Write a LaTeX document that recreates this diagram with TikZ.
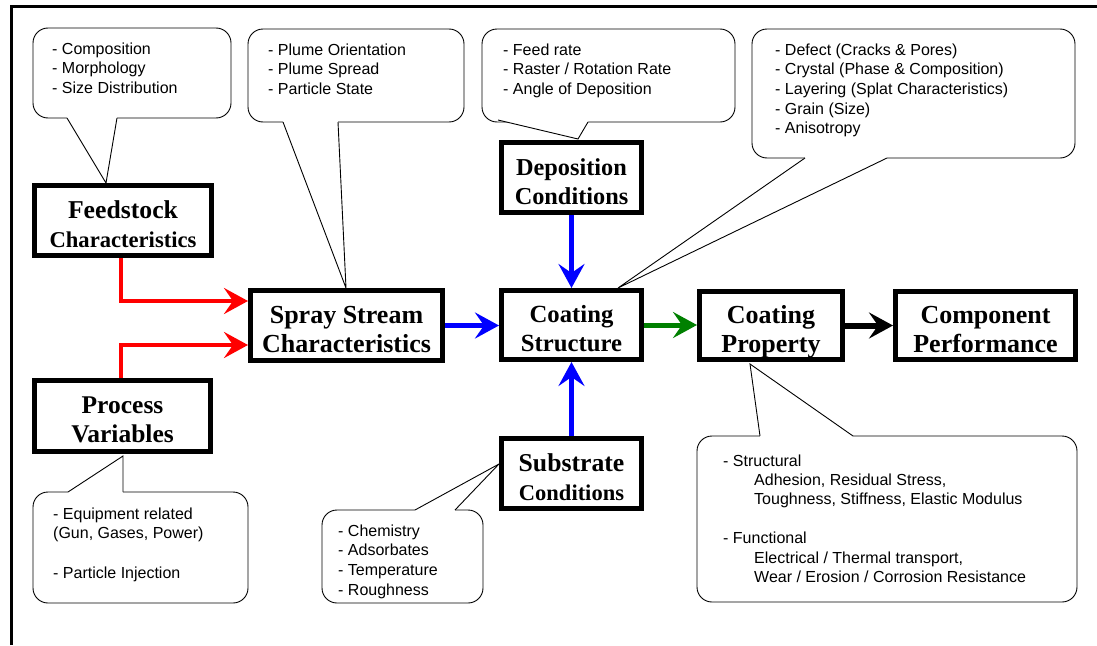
\documentclass[tikz,border=0pt]{standalone}
\usepackage{fontspec}
\setmainfont{Liberation Serif}
\newfontfamily\calfont{Liberation Sans}
\usetikzlibrary{arrows.meta}
\newcommand\mycallout[4]{%
  \draw[calline, fill=white, rounded corners=15pt] #1;
  \fill[white] #2 -- #3 -- #4 -- cycle;
  \draw[white, line width=2.2pt] #2 -- #4;
  \draw[calline, line join=miter] #2 -- #3 -- #4;
}
\newcommand\ind{\hspace*{31pt}}
\newcommand\twolines[2]{\rule{0pt}{30pt}#1\\#2\rule[-6pt]{0pt}{6pt}}
\begin{document}
\begin{tikzpicture}[x=1pt,y=-1pt,
  mainbox/.style={draw, line width=5pt, fill=white, align=center, inner sep=0pt, font=\fontsize{26}{29}\selectfont\bfseries},
  calline/.style={line width=0.9pt},
  caltext/.style={anchor=base west, inner sep=0pt, font=\calfont\fontsize{16}{19.7}\selectfont},
  flow/.style={line width=4.5pt, -{Stealth[length=24pt,width=26pt,inset=9pt]}},
]
\useasboundingbox (0,0) rectangle (1097,645);
% frame
\draw[line width=3pt] (11.7,645) -- (11.7,6.2) -- (1097,6.2);

% callouts
\mycallout{(33,28) rectangle (231,118)}{(67,118)}{(106,183)}{(117,118)}
\mycallout{(248,29) rectangle (464,122)}{(283,122)}{(346,288)}{(338,122)}
\mycallout{(482,29) rectangle (735,122)}{(498,120)}{(578,139)}{(588,122)}
\mycallout{(752,29) rectangle (1075,158)}{(805,158)}{(618,288)}{(887,158)}
\mycallout{(33,492) rectangle (248,603)}{(68,492)}{(123,456)}{(123,492)}
\mycallout{(322,510) rectangle (483,603)}{(415,510)}{(499,464)}{(455,510)}
\mycallout{(697,436) rectangle (1077,602)}{(760,436)}{(750,364)}{(853,436)}

\node[caltext] (t1) at (52,54) {\begin{tabular}[t]{@{}l@{}}- Composition\\- Morphology\\- Size Distribution\end{tabular}};
\node[caltext] (t2) at (268,55) {\begin{tabular}[t]{@{}l@{}}- Plume Orientation\\- Plume Spread\\- Particle State\end{tabular}};
\node[caltext] (t3) at (503,55) {\begin{tabular}[t]{@{}l@{}}- Feed rate\\- Raster / Rotation Rate\\- Angle of Deposition\end{tabular}};
\node[caltext] (t4) at (775,55) {\begin{tabular}[t]{@{}l@{}}- Defect (Cracks \& Pores)\\- Crystal (Phase \& Composition)\\- Layering (Splat Characteristics)\\- Grain (Size)\\- Anisotropy\end{tabular}};
\node[caltext] (t5) at (53,519) {\begin{tabular}[t]{@{}l@{}}- Equipment related\\(Gun, Gases, Power)\\ \\- Particle Injection\end{tabular}};
\node[caltext] (t6) at (338,536) {\begin{tabular}[t]{@{}l@{}}- Chemistry\\- Adsorbates\\- Temperature\\- Roughness\end{tabular}};
\node[caltext, font=\calfont\fontsize{16}{19.4}\selectfont] (t7) at (723,466) {\begin{tabular}[t]{@{}l@{}}- Structural\\\ind Adhesion, Residual Stress,\\\ind Toughness, Stiffness, Elastic Modulus\\ \\- Functional\\\ind Electrical / Thermal transport,\\\ind Wear / Erosion / Corrosion Resistance\end{tabular}};

% main boxes
\node[mainbox, minimum width=177pt, minimum height=70pt] (feed) at (123,220.5) {\twolines{\fontsize{25.7}{29}\selectfont Feedstock}{\fontsize{22.6}{29}\selectfont Characteristics}};
\node[mainbox, minimum width=176pt, minimum height=71pt, font=\fontsize{25.5}{29}\selectfont\bfseries] (proc) at (122.5,416) {\twolines{Process}{Variables}};
\node[mainbox, minimum width=192pt, minimum height=70pt] (spray) at (346.5,325.5) {\twolines{Spray Stream}{Characteristics}};
\node[mainbox, minimum width=140pt, minimum height=70pt, font=\fontsize{24.3}{29}\selectfont\bfseries] (dep) at (571.5,177.5) {\twolines{Deposition}{Conditions}};
\node[mainbox, minimum width=140pt, minimum height=69pt, font=\fontsize{24.7}{29}\selectfont\bfseries] (struct) at (571.5,325) {\twolines{Coating}{Structure}};
\node[mainbox, minimum width=140pt, minimum height=70pt] (sub) at (571.5,473.5) {\twolines{\fontsize{25.7}{29}\selectfont Substrate}{\fontsize{22.5}{28}\selectfont Conditions}};
\node[mainbox, minimum width=143pt, minimum height=68pt] (prop) at (771,325.5) {\twolines{Coating}{Property}};
\node[mainbox, minimum width=180pt, minimum height=68pt] (comp) at (985.5,325.5) {\twolines{Component}{Performance}};

% connectors
\coordinate (r1) at (121,301);
\coordinate (r2) at (121,345);
\draw[flow, red] (feed.south -| r1) |- (spray.west |- r1);
\draw[flow, red] (proc.north -| r2) |- (spray.west |- r2);
\draw[flow, blue, line width=5pt] (spray.east) -- (spray.east -| struct.west);
\draw[flow, blue, line width=5pt] (dep.south) -- (struct.north);
\draw[flow, blue, line width=5pt] (sub.north) -- (struct.south);
\draw[flow, green!50!black, line width=5pt] (struct.east) -- (struct.east -| prop.west);
\draw[flow, black, line width=6pt] (prop.east) -- (prop.east -| comp.west);
\end{tikzpicture}
\end{document}
